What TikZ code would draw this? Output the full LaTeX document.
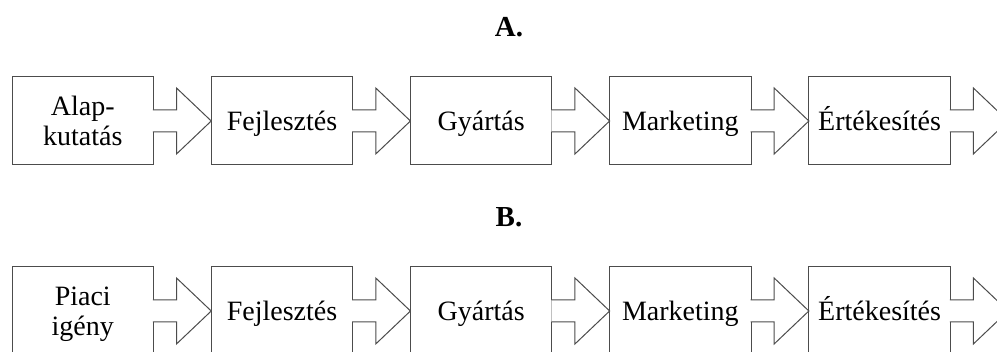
\documentclass[tikz,border=0pt]{standalone}
\usepackage{fontspec}
\setmainfont{Liberation Serif}
\tikzset{
  stage/.style={draw=black!70, line width=1pt, outer sep=0pt, inner sep=0pt,
    minimum width=141.5pt, minimum height=88pt, text height=20pt, text depth=0pt,
    align=center, font=\fontsize{28}{30}\selectfont},
  twoline/.style={text height=50pt, text depth=0pt},
  flow/.style={draw=black!70, line width=1pt, fill=white, line join=miter},
  heading/.style={anchor=base, font=\fontsize{29}{30}\selectfont\bfseries}
}
\begin{document}
\begin{tikzpicture}[x=1pt,y=1pt]
\useasboundingbox (0,0) rectangle (997,352);
\clip (0,0) rectangle (997,352);
% A.
\node[heading] (ta) at (509,315) {A.};
\node[stage, twoline] (a1) at (82.75,231) {Alap-\\kutatás};
\node[stage] (a2) at (282,231) {Fejlesztés};
\node[stage] (a3) at (481.2,231) {Gyártás};
\node[stage] (a4) at (680.4,231) {Marketing};
\node[stage] (a5) at (879.6,231) {Értékesítés};
\coordinate (aend) at ([xshift=57.75pt]a5.east);
\draw[flow] ([xshift=-0.6pt,yshift=11pt]a1.east) -- ++(23.6,0) -- ++(0,22) -- (a2.west) -- ([xshift=23pt,yshift=-33pt]a1.east) -- ++(0,22) -- ([xshift=-0.6pt,yshift=-11pt]a1.east);
\draw[flow] ([xshift=-0.6pt,yshift=11pt]a2.east) -- ++(23.6,0) -- ++(0,22) -- (a3.west) -- ([xshift=23pt,yshift=-33pt]a2.east) -- ++(0,22) -- ([xshift=-0.6pt,yshift=-11pt]a2.east);
\draw[flow] ([xshift=-0.6pt,yshift=11pt]a3.east) -- ++(23.6,0) -- ++(0,22) -- (a4.west) -- ([xshift=23pt,yshift=-33pt]a3.east) -- ++(0,22) -- ([xshift=-0.6pt,yshift=-11pt]a3.east);
\draw[flow] ([xshift=-0.6pt,yshift=11pt]a4.east) -- ++(23.6,0) -- ++(0,22) -- (a5.west) -- ([xshift=23pt,yshift=-33pt]a4.east) -- ++(0,22) -- ([xshift=-0.6pt,yshift=-11pt]a4.east);
\draw[flow] ([xshift=-0.6pt,yshift=11pt]a5.east) -- ++(23.6,0) -- ++(0,22) -- (aend) -- ([xshift=23pt,yshift=-33pt]a5.east) -- ++(0,22) -- ([xshift=-0.6pt,yshift=-11pt]a5.east);
% B.
\node[heading] (tb) at (509,125) {B.};
\node[stage, twoline] (b1) at (82.75,41) {Piaci\\igény};
\node[stage] (b2) at (282,41) {Fejlesztés};
\node[stage] (b3) at (481.2,41) {Gyártás};
\node[stage] (b4) at (680.4,41) {Marketing};
\node[stage] (b5) at (879.6,41) {Értékesítés};
\coordinate (bend) at ([xshift=57.75pt]b5.east);
\draw[flow] ([xshift=-0.6pt,yshift=11pt]b1.east) -- ++(23.6,0) -- ++(0,22) -- (b2.west) -- ([xshift=23pt,yshift=-33pt]b1.east) -- ++(0,22) -- ([xshift=-0.6pt,yshift=-11pt]b1.east);
\draw[flow] ([xshift=-0.6pt,yshift=11pt]b2.east) -- ++(23.6,0) -- ++(0,22) -- (b3.west) -- ([xshift=23pt,yshift=-33pt]b2.east) -- ++(0,22) -- ([xshift=-0.6pt,yshift=-11pt]b2.east);
\draw[flow] ([xshift=-0.6pt,yshift=11pt]b3.east) -- ++(23.6,0) -- ++(0,22) -- (b4.west) -- ([xshift=23pt,yshift=-33pt]b3.east) -- ++(0,22) -- ([xshift=-0.6pt,yshift=-11pt]b3.east);
\draw[flow] ([xshift=-0.6pt,yshift=11pt]b4.east) -- ++(23.6,0) -- ++(0,22) -- (b5.west) -- ([xshift=23pt,yshift=-33pt]b4.east) -- ++(0,22) -- ([xshift=-0.6pt,yshift=-11pt]b4.east);
\draw[flow] ([xshift=-0.6pt,yshift=11pt]b5.east) -- ++(23.6,0) -- ++(0,22) -- (bend) -- ([xshift=23pt,yshift=-33pt]b5.east) -- ++(0,22) -- ([xshift=-0.6pt,yshift=-11pt]b5.east);
\end{tikzpicture}
\end{document}
